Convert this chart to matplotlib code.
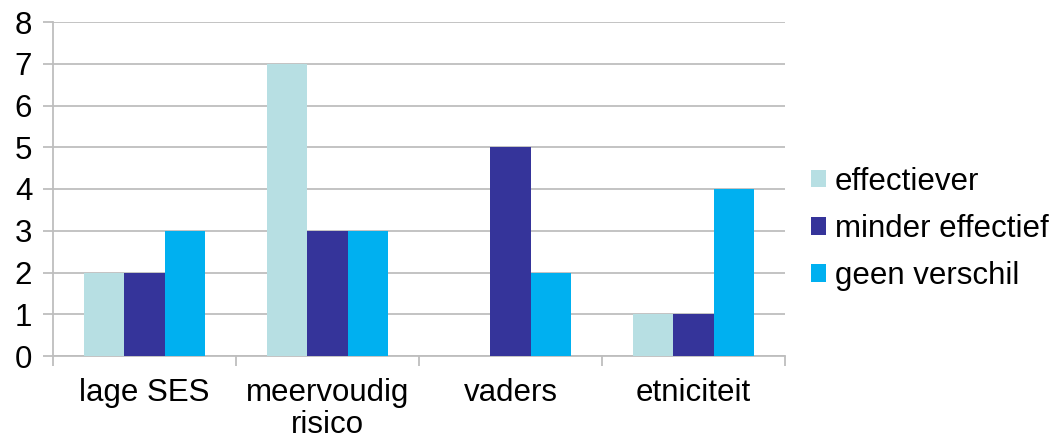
import matplotlib
matplotlib.use("Agg")
import matplotlib.pyplot as plt
import numpy as np

plt.rcParams['font.family'] = ['Liberation Sans', 'DejaVu Sans']

categories = ["lage SES", "meervoudig\nrisico", "vaders", "etniciteit"]
series_names = ["effectiever", "minder effectief", "geen verschil"]
effectiever = [2, 7, 0, 1]
minder_effectief = [2, 3, 5, 1]
geen_verschil = [3, 3, 2, 4]
y_ticks = [0, 1, 2, 3, 4, 5, 6, 7, 8]

colors = ["#B7DFE3", "#35349A", "#00B0F0"]
grid_col = "#BEBEBE"

fig = plt.figure(figsize=(10.53, 4.43), dpi=100)
ax = fig.add_axes([53 / 1053, 1 - 356 / 443, (785 - 53) / 1053, (356 - 22) / 443])

x = np.arange(len(categories))
w = 0.22
for i, (vals, name, col) in enumerate(zip([effectiever, minder_effectief, geen_verschil], series_names, colors)):
    ax.bar(x + (i - 1) * w, vals, width=w, color=col, label=name, zorder=3)

ax.set_xlim(-0.5, len(categories) - 0.5)
ax.set_ylim(0, 8)
ax.set_yticks(y_ticks)
ax.set_yticklabels([str(t) for t in y_ticks], fontsize=22.5)
ax.yaxis.grid(True, color=grid_col, linewidth=1.3, zorder=0)
ax.set_axisbelow(True)

ax.set_xticks(x)
ax.set_xticklabels(categories, fontsize=22.5, linespacing=1.08)
ax.set_xticks(np.arange(len(categories) + 1) - 0.5, minor=True)
ax.tick_params(axis='x', which='major', length=0, pad=16)
ax.tick_params(axis='x', which='minor', length=7, color=grid_col, width=1.3, direction='out')
ax.tick_params(axis='y', length=7, color=grid_col, width=1.3, direction='out', pad=8)

for s in ['top', 'right']:
    ax.spines[s].set_visible(False)
for s in ['left', 'bottom']:
    ax.spines[s].set_color(grid_col)
    ax.spines[s].set_linewidth(1.3)

leg = ax.legend(loc='center left', bbox_to_anchor=(1.035, 0.38), frameon=False,
                fontsize=22.5, handlelength=0.48, handleheight=0.48,
                handletextpad=0.3, labelspacing=0.55, borderaxespad=0,
                borderpad=0)

fig.savefig("out.png", dpi=100, facecolor="white")
